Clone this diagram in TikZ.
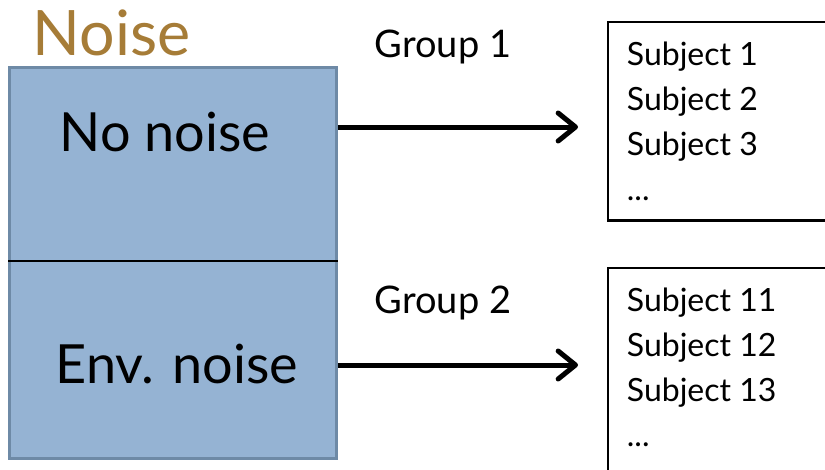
\documentclass[tikz,border=0pt]{standalone}
\usepackage{fontspec}
\setmainfont{Lato}
\usetikzlibrary{positioning, arrows.meta}
\definecolor{panelblue}{HTML}{95B3D3}
\definecolor{paneledge}{HTML}{6E8AA6}
\definecolor{titlebrown}{HTML}{A67C37}

\begin{document}
\begin{tikzpicture}[x=0.75pt, y=-0.75pt,
  panel/.style={draw=paneledge, line width=2.2pt, fill=panelblue,
    minimum width=245pt, minimum height=293pt, inner sep=0pt},
  level/.style={font=\fontsize{40.5}{48}\selectfont},
  group/.style={font=\fontsize{28.5}{34}\selectfont},
  frame/.style={anchor=north west, minimum width=280pt, inner sep=0pt},
  edge/.style={line width=1.8pt},
  items/.style={align=left, inner sep=0pt, font=\fontsize{24}{33.75}\selectfont},
  link/.style={line width=3.75pt, -{Straight Barb[length=13pt, width=21pt, round]}}]
  \useasboundingbox (0,0) rectangle (825,469);
  \clip (0,0) rectangle (825,469);

  % noise conditions
  \node[anchor=base west, text=titlebrown, font=\fontsize{47}{52}\selectfont] (title) at (28,55) {Noise};
  \node[panel] (panel) at (173,263) {};
  \coordinate (split) at (173,261);
  \draw[line width=1.5pt] (panel.west |- split) -- (panel.east |- split);
  \node[level] (quiet) at (165,132) {No noise};
  \node[level] (env) at (177,364) {Env. noise};

  % subject lists, running off the right edge
  \node[frame, minimum height=148.5pt] (listA) at (608,22) {};
  \node[frame, minimum height=180pt] (listB) at (608,268) {};
  \draw[edge] (listA.north east) -- (listA.north west) -- (listA.south west) -- (listA.south east);
  \draw[edge] (listB.north east) -- (listB.north west) -- (listB.south west);
  \node[items, below right=15pt and 14pt of listA.north west] (itemsA)
    {Subject 1\\Subject 2\\Subject 3\\...};
  \node[items, below right=15pt and 14pt of listB.north west] (itemsB)
    {Subject 11\\Subject 12\\Subject 13\\...};

  % assignment arrows
  \coordinate (tipA) at (578,127);
  \coordinate (tipB) at (578,365);
  \draw[link] (panel.east |- tipA) -- (tipA);
  \draw[link] (panel.east |- tipB) -- (tipB);
  \node[group, anchor=base west] (groupA) at (370,57) {Group 1};
  \node[group, anchor=base west] (groupB) at (370,313) {Group 2};
\end{tikzpicture}
\end{document}
